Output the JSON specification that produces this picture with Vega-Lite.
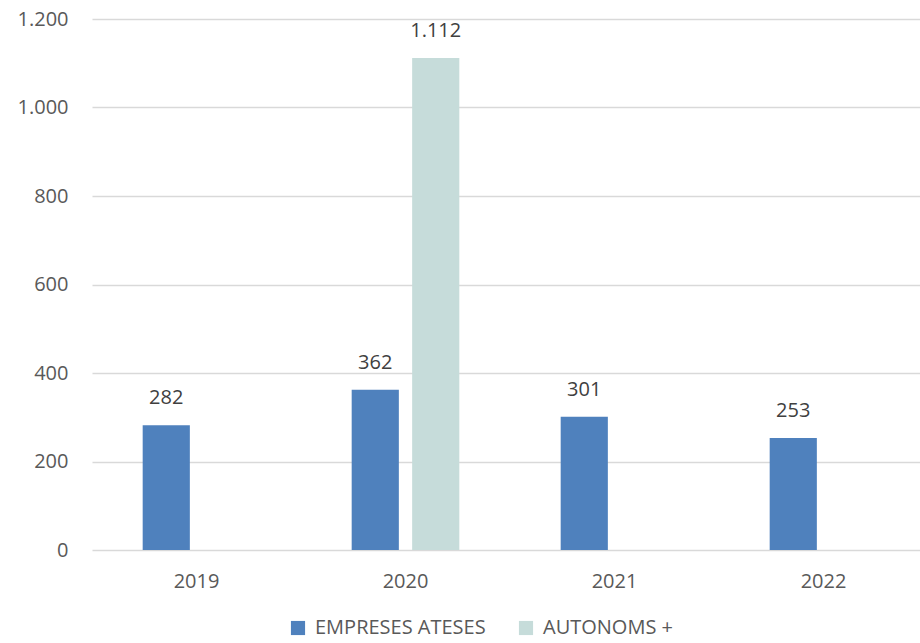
{
  "$schema": "https://vega.github.io/schema/vega-lite/v6.json",
  "autosize": {"type": "none"},
  "width": 836,
  "height": 531,
  "padding": {"left": 92, "top": 19, "right": 0, "bottom": 93},
  "background": "white",
  "config": {
    "locale": {"number": {"decimal": ",", "thousands": ".", "grouping": [3], "currency": ["", " €"]}},
    "view": {"stroke": null},
    "font": "Open Sans"
  },
  "data": {
    "values": [
      {"year": "2019", "serie": "EMPRESES ATESES", "value": 282},
      {"year": "2020", "serie": "EMPRESES ATESES", "value": 362},
      {"year": "2020", "serie": "AUTONOMS +", "value": 1112},
      {"year": "2021", "serie": "EMPRESES ATESES", "value": 301},
      {"year": "2022", "serie": "EMPRESES ATESES", "value": 253}
    ]
  },
  "encoding": {
    "x": {
      "field": "year", "type": "nominal", "title": null,
      "scale": {"paddingInner": 0.485, "paddingOuter": 0.2425},
      "axis": {"labelAngle": 0, "domain": false, "ticks": false, "labelPadding": 21, "labelFontSize": 20, "labelColor": "#595959", "labelFont": "Open Sans", "grid": false}
    },
    "xOffset": {"field": "serie", "type": "nominal", "sort": ["EMPRESES ATESES", "AUTONOMS +"], "scale": {"paddingInner": 0.22, "paddingOuter": 0}},
    "y": {
      "field": "value", "type": "quantitative", "title": null,
      "scale": {"domain": [0, 1200], "nice": false},
      "axis": {"values": [0, 200, 400, 600, 800, 1000, 1200], "format": ",d", "domain": false, "ticks": false, "labelPadding": 24, "labelFontSize": 20, "labelColor": "#595959", "labelFont": "Open Sans", "gridColor": "#d9d9d9", "gridWidth": 1.5}
    }
  },
  "layer": [
    {
      "mark": {"type": "bar"},
      "encoding": {
        "color": {
          "field": "serie", "type": "nominal", "title": null,
          "sort": ["EMPRESES ATESES", "AUTONOMS +"],
          "scale": {"domain": ["EMPRESES ATESES", "AUTONOMS +"], "range": ["#4F81BD", "#C6DCDA"]},
          "legend": {"orient": "none", "direction": "horizontal", "legendX": 196, "legendY": 599, "symbolType": "square", "symbolSize": 200, "symbolStrokeWidth": 0, "labelFontSize": 20, "labelColor": "#595959", "labelFont": "Open Sans", "labelOffset": 7, "labelLimit": 400, "columnPadding": 30}
        }
      }
    },
    {
      "mark": {"type": "text", "baseline": "middle", "dy": -27, "fontSize": 20, "color": "#404040", "font": "Open Sans"},
      "encoding": {"text": {"field": "value", "type": "quantitative", "format": ",d"}}
    }
  ]
}
